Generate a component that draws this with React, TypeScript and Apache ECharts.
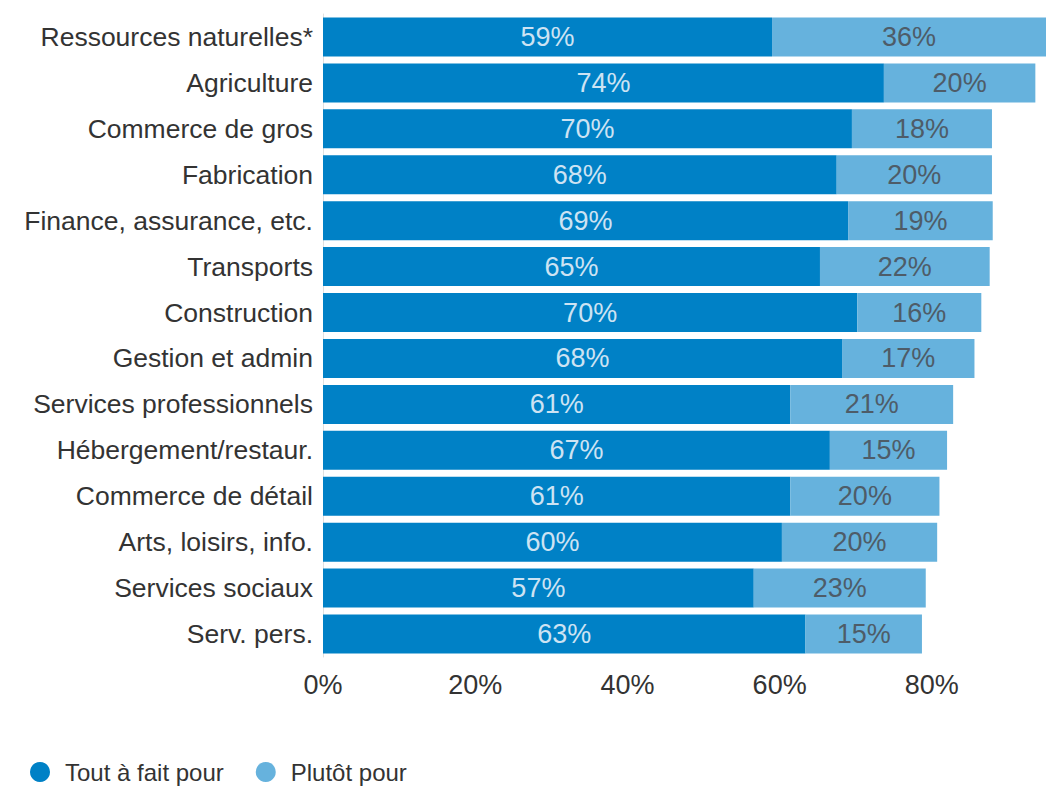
import React, { useEffect, useRef } from "react";
import * as echarts from "echarts";

const categories = [
  "Ressources naturelles*",
  "Agriculture",
  "Commerce de gros",
  "Fabrication",
  "Finance, assurance, etc.",
  "Transports",
  "Construction",
  "Gestion et admin",
  "Services professionnels",
  "Hébergement/restaur.",
  "Commerce de détail",
  "Arts, loisirs, info.",
  "Services sociaux",
  "Serv. pers.",
];
// values; labels show rounded percentages
const toutAFait = [59.0, 73.7, 69.5, 67.5, 69.0, 65.3, 70.2, 68.2, 61.4, 66.6, 61.4, 60.3, 56.6, 63.4];
const plutot = [36.0, 19.9, 18.4, 20.4, 19.0, 22.3, 16.3, 17.4, 21.4, 15.4, 19.6, 20.4, 22.6, 15.3];
const seriesNames = ["Tout à fait pour", "Plutôt pour"];

const FONT = "'Liberation Sans', Arial, sans-serif";

export default function App() {
  const ref = useRef<HTMLDivElement>(null);
  useEffect(() => {
    if (!ref.current) return;
    const chart = echarts.init(ref.current, null, { renderer: "svg" });
    const pct = (p: any) => Math.round(p.value) + "%";
    chart.setOption({
      animation: false,
      textStyle: { fontFamily: FONT },
      grid: { left: 323, right: 8, top: 14, bottom: 129, containLabel: false },
      legend: {
        left: 25,
        top: 755,
        padding: [5, 5, 5, 5],
        icon: "circle",
        itemWidth: 20,
        itemHeight: 20,
        itemGap: 32,
        textStyle: {
          fontSize: 24,
          lineHeight: 24,
          color: "#333",
          fontFamily: FONT,
          padding: [0, 0, 0, 10],
        },
        data: seriesNames,
      },
      xAxis: {
        type: "value",
        min: 0,
        max: 95,
        interval: 20,
        splitLine: { show: false },
        axisLine: { show: false },
        axisTick: { show: false },
        axisLabel: {
          fontSize: 27,
          color: "#333",
          margin: 14,
          fontFamily: FONT,
          formatter: (v: number) => (v % 20 === 0 ? v + "%" : ""),
        },
      },
      yAxis: {
        type: "category",
        data: categories,
        inverse: true,
        axisLine: { show: true, lineStyle: { color: "#e0e0e0", width: 1 } },
        axisTick: { show: false },
        axisLabel: { fontSize: 26.5, color: "#333", margin: 10, fontFamily: FONT },
      },
      series: [
        {
          name: seriesNames[0],
          type: "bar",
          stack: "total",
          barWidth: 39,
          data: toutAFait,
          itemStyle: { color: "#0081c6" },
          label: {
            show: true,
            position: "inside",
            formatter: pct,
            fontSize: 27,
            color: "#cde3f3",
            fontFamily: FONT,
          },
        },
        {
          name: seriesNames[1],
          type: "bar",
          stack: "total",
          barWidth: 39,
          data: plutot,
          itemStyle: { color: "#66b2dd" },
          label: {
            show: true,
            position: "inside",
            formatter: pct,
            fontSize: 27,
            color: "#4e5c68",
            fontFamily: FONT,
          },
        },
      ],
    });
    return () => chart.dispose();
  }, []);
  return <div ref={ref} style={{ width: 1054, height: 786, position: "absolute", left: 0, top: 0 }} />;
}
